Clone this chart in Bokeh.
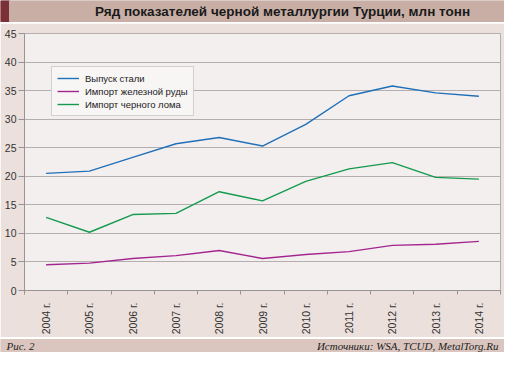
import math
from bokeh.plotting import figure
from bokeh.models import Range1d, FixedTicker, Legend, LegendItem, ColumnDataSource
from bokeh.layouts import column
from bokeh.core.properties import value
from bokeh.embed import file_html
from bokeh.resources import INLINE

# ---- data ----
years = ["2004 г.", "2005 г.", "2006 г.", "2007 г.", "2008 г.", "2009 г.",
         "2010 г.", "2011 г.", "2012 г.", "2013 г.", "2014 г."]
steel = [20.5, 20.9, 23.3, 25.7, 26.8, 25.3, 29.1, 34.1, 35.8, 34.6, 34.0]
ore = [4.5, 4.8, 5.6, 6.1, 7.0, 5.6, 6.3, 6.8, 7.9, 8.1, 8.6]
scrap = [12.8, 10.2, 13.3, 13.5, 17.3, 15.7, 19.1, 21.3, 22.4, 19.8, 19.5]
series_names = ["Выпуск стали", "Импорт железной руды", "Импорт черного лома"]
y_ticks = [0, 5, 10, 15, 20, 25, 30, 35, 40, 45]

title_text = "Ряд показателей черной металлургии Турции, млн тонн"
fig_note = "Рис. 2"
source_note = "Источники: WSA, TCUD, MetalTorg.Ru"

W = 504
SANS = "Liberation Sans"
SERIF = "Liberation Serif"
OUTER = "#ebe0dc"
PLOTBG = "#f4efef"
GRID = "#b4aeae"


def bare(h):
    f = figure(width=W, height=h, x_range=Range1d(0, W), y_range=Range1d(0, h),
               toolbar_location=None, output_backend="svg", min_border=0,
               x_axis_location=None, y_axis_location=None, frame_align=False)
    f.grid.visible = False
    f.outline_line_color = None
    f.background_fill_color = "white"
    f.border_fill_color = "white"
    return f


# ---- header ----
hdr_h = 23
hdr = bare(hdr_h)
hdr.quad(left=[0], right=[9], bottom=[2], top=[hdr_h], color="#7b3038")
hdr.quad(left=[9], right=[W], bottom=[2], top=[hdr_h], color="#c8aea5")
hdr.text(x=[282], y=[12.5], text=[title_text], text_font=value(SANS),
         text_font_size="13.5px", text_font_style="bold", text_color="#1a1a1a",
         text_align="center", text_baseline="middle")

# ---- main chart ----
main_h = 314
x = list(range(len(years)))
src = ColumnDataSource(dict(x=x, steel=steel, ore=ore, scrap=scrap))
p = figure(width=W, height=main_h, x_range=Range1d(-0.5, len(years) - 0.5),
           y_range=Range1d(0, 45), toolbar_location=None, output_backend="svg",
           min_border_left=24, min_border_right=4, min_border_top=10, min_border_bottom=30,
           frame_align=False)
p.background_fill_color = PLOTBG
p.border_fill_color = OUTER
p.outline_line_color = GRID
p.outline_line_width = 1

p.xgrid.visible = False
p.ygrid.grid_line_color = GRID
p.ygrid.grid_line_width = 1
p.yaxis.ticker = FixedTicker(ticks=y_ticks)
p.xaxis.ticker = FixedTicker(ticks=x, minor_ticks=[i - 0.5 for i in range(len(years) + 1)])
p.xaxis.major_label_overrides = {i: years[i] for i in x}
p.xaxis.major_label_orientation = math.pi / 2
p.xaxis.major_tick_line_color = None
p.xaxis.major_tick_out = 0
p.xaxis.major_tick_in = 0
p.xaxis.minor_tick_in = 0
p.xaxis.minor_tick_out = 4
p.xaxis.minor_tick_line_color = "#999393"
p.yaxis.minor_tick_line_color = None
p.yaxis.major_tick_in = 0
p.yaxis.major_tick_out = 6
p.yaxis.major_tick_line_color = "#999393"
for ax in (p.xaxis, p.yaxis):
    ax.axis_line_color = "#999393"
    ax.major_label_text_font = SANS
    ax.major_label_text_font_size = "10.5px"
    ax.major_label_text_color = "#333333"
p.yaxis.major_label_standoff = 2
p.xaxis.major_label_standoff = 8

r1 = p.line("x", "steel", source=src, line_color="#1f70b8", line_width=1.4)
r2 = p.line("x", "ore", source=src, line_color="#a3268f", line_width=1.4)
r3 = p.line("x", "scrap", source=src, line_color="#139a4c", line_width=1.4)

leg = Legend(items=[LegendItem(label=series_names[0], renderers=[r1]),
                    LegendItem(label=series_names[1], renderers=[r2]),
                    LegendItem(label=series_names[2], renderers=[r3])],
             location=(27, 174))
leg.label_text_font = SANS
leg.label_text_font_size = "9.5px"
leg.label_text_color = "#222222"
leg.glyph_width = 22
leg.glyph_height = 12
leg.label_height = 12
leg.spacing = 1
leg.padding = 5
leg.margin = 0
leg.label_standoff = 6
leg.border_line_color = "#b0aaaa"
leg.background_fill_color = "#f8f5f5"
leg.background_fill_alpha = 1
p.add_layout(leg, "center")

# ---- footer ----
ftr_h = 15
ftr = bare(ftr_h)
ftr.quad(left=[0], right=[W], bottom=[0], top=[ftr_h - 2], color="#dac6be")
ftr.text(x=[6], y=[6.5], text=[fig_note], text_font=value(SERIF), text_font_size="11px",
         text_font_style="italic", text_color="#222222", text_align="left", text_baseline="middle")
ftr.text(x=[W - 6], y=[6.5], text=[source_note], text_font=value(SERIF), text_font_size="11px",
         text_font_style="italic", text_color="#222222", text_align="right", text_baseline="middle")

layout = column(hdr, p, ftr, spacing=0)
open("out.html", "w").write(file_html(layout, INLINE))
